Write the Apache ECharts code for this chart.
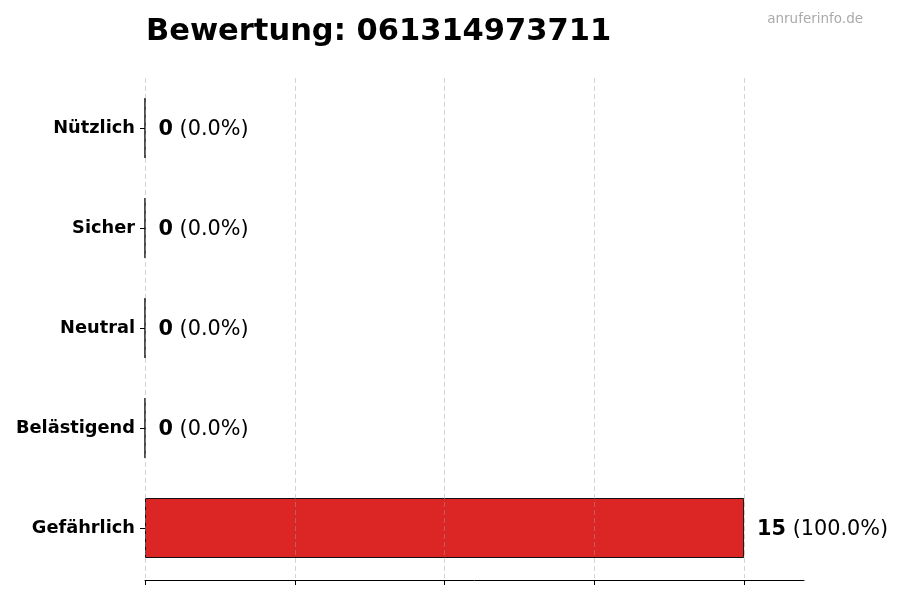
<!DOCTYPE html>
<html>
<head>
<meta charset="utf-8">
<script src="https://cdn.jsdelivr.net/npm/echarts@6/dist/echarts.min.js"></script>
<style>html,body{margin:0;padding:0;background:#fff}#c{width:900px;height:600px}</style>
</head>
<body>
<div id="c"></div>
<script>
const categories = ['Nützlich', 'Sicher', 'Neutral', 'Belästigend', 'Gefährlich'];
const values = [0, 0, 0, 0, 15];
const xTicks = [0, 3.75, 7.5, 11.25, 15];
const titleText = 'Bewertung: 061314973711';
const watermark = 'anruferinfo.de';

const total = values.reduce((a, b) => a + b, 0);
const F = 'DejaVu Sans';
const chart = echarts.init(document.getElementById('c'));
chart.setOption({
  animation: false,
  backgroundColor: '#fff',
  title: [
    { text: titleText, left: 141, top: 12, textStyle: { fontFamily: F, fontSize: 30.5, fontWeight: 'bold', color: '#000' } },
    { text: watermark, right: 32, top: 7, textStyle: { fontFamily: F, fontSize: 13.5, fontWeight: 'normal', color: '#aaa' } }
  ],
  grid: { left: 145, top: 78, width: 659, height: 500, containLabel: false },
  xAxis: {
    type: 'value', min: 0, max: 16.5, interval: 3.75, offset: 2,
    axisLine: { show: true, onZero: false, lineStyle: { color: '#000', width: 1 } },
    axisTick: { show: true, length: 5, customValues: xTicks, lineStyle: { color: '#000' } },
    axisLabel: { show: false },
    splitLine: { show: false }
  },
  yAxis: {
    type: 'category', data: categories, inverse: true,
    axisLine: { show: false },
    axisTick: { show: true, alignWithLabel: true, length: 5, lineStyle: { color: '#000' } },
    axisLabel: { fontFamily: F, fontSize: 17.8, fontWeight: 'bold', color: '#000', margin: 10, padding: [5, 0, 0, 0] }
  },
  series: [{
    type: 'bar', data: values, barWidth: 60,
    itemStyle: { color: '#dc2626', borderColor: '#111', borderWidth: 1 },
    label: {
      show: true, position: 'right', distance: 13, offset: [0, 2],
      formatter: p => '{b|' + p.value + '}{n| (' + (total ? (p.value / total * 100) : 0).toFixed(1) + '%)}',
      rich: {
        b: { fontFamily: F, fontSize: 20.8, fontWeight: 'bold', color: '#000' },
        n: { fontFamily: F, fontSize: 20.8, fontWeight: 'normal', color: '#000' }
      }
    },
    markLine: {
      silent: true, symbol: ['none', 'none'], label: { show: false },
      lineStyle: { color: 'rgba(160,160,160,0.45)', type: [5, 3], width: 1 },
      emphasis: { disabled: true },
      data: xTicks.map(v => ({ xAxis: v }))
    }
  }]
});
</script>
</body>
</html>
